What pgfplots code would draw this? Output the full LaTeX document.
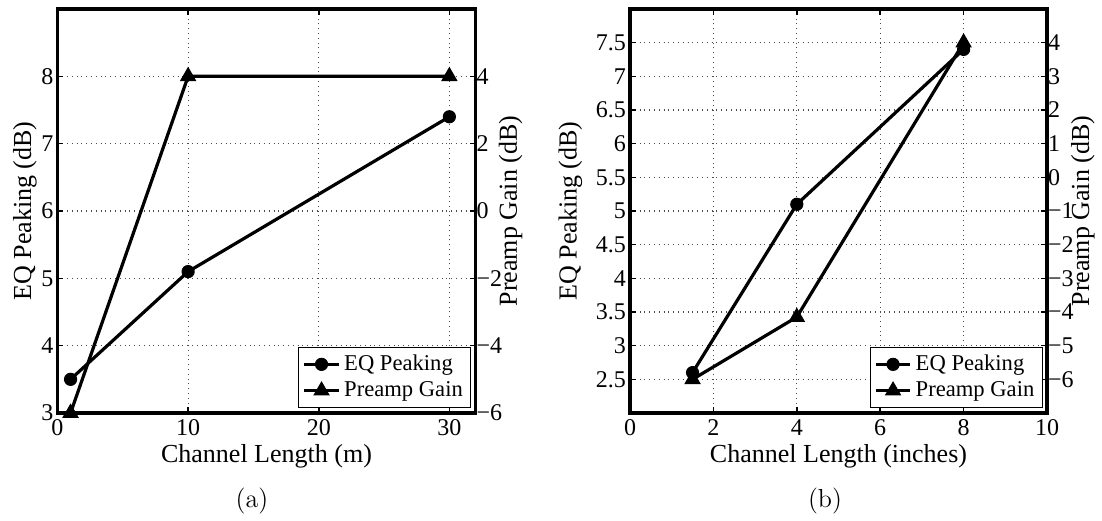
\documentclass[border=0pt]{standalone}
\usepackage{fontspec}
\newfontfamily\libserif{Liberation Serif}
\usepackage{pgfplots}
\pgfplotsset{compat=1.18}

\pgfplotsset{
  twin/.style={
    scale only axis, height=202pt,
    clip=false,
    tick align=inside,
    major tick length=3pt,
    tick style={black, line width=0.8pt},
    axis line style={line width=1.8pt},
    ticklabel style={font=\libserif\fontsize{12}{14}\selectfont},
    label style={font=\libserif\fontsize{13}{15}\selectfont},
  },
  leftax/.style={twin, ytick pos=left, xtick pos=both,
    grid=major, grid style={dotted, line width=0.6pt, black!70},
    yticklabel style={xshift=1.5pt},
    xticklabel style={inner sep=0pt, yshift=-3pt},
    xlabel style={at={(axis description cs:0.5,0)}, anchor=base,
      inner sep=0pt, yshift=-24.5pt}},
  rightax/.style={twin, axis x line=none, axis y line*=right, ytick pos=right,
    yticklabel style={xshift=-3pt},
    legend style={at={(axis description cs:0.99,0.012)}, anchor=south east,
      draw=black, line width=0.5pt, inner sep=2pt, row sep=0pt,
      legend cell align=left,
      font=\libserif\fontsize{11.3}{14}\selectfont}},
  eq/.style={black, line width=1.6pt, mark=*, mark size=3pt,
    mark options={solid, line width=0.6pt}},
  pg/.style={black, line width=1.6pt, mark=triangle*, mark size=4.2pt,
    mark options={solid, line width=0.6pt}},
}

\begin{document}
\begin{tikzpicture}
% (a)
\begin{axis}[leftax, width=209pt, at={(0pt,0pt)}, anchor=south west,
  xmin=0, xmax=32, ymin=3, ymax=9,
  xtick={0,10,20,30}, xticklabels={0,10,20,30},
  ytick={3,4,5,6,7,8}, yticklabels={3,4,5,6,7,8},
  xlabel={Channel Length (m)}, ylabel={EQ Peaking (dB)},
  ylabel style={at={(axis description cs:-0.078,0.5)}, anchor=center},
]
\addplot[eq] coordinates {(1,3.5) (10,5.1) (30,7.4)};
\end{axis}
\begin{axis}[rightax, width=209pt, at={(0pt,0pt)}, anchor=south west,
  xmin=0, xmax=32, ymin=-6, ymax=6,
  ytick={-6,-4,-2,0,2,4}, yticklabels={−6,−4,−2,0,2,4},
  ylabel={Preamp Gain (dB)},
  ylabel style={at={(axis description cs:1.084,0.5)}, anchor=center},
]
\addlegendimage{eq}
\addlegendentry{EQ Peaking}
\addplot[pg] coordinates {(1,-6) (10,4) (30,4)};
\addlegendentry{Preamp Gain}
\end{axis}

% (b)
\begin{axis}[leftax, width=208.5pt, at={(286.25pt,0pt)}, anchor=south west,
  xmin=0, xmax=10, ymin=2, ymax=8,
  xtick={0,2,4,6,8,10}, xticklabels={0,2,4,6,8,10},
  ytick={2.5,3,3.5,4,4.5,5,5.5,6,6.5,7,7.5},
  yticklabels={2.5,3,3.5,4,4.5,5,5.5,6,6.5,7,7.5},
  xlabel={Channel Length (inches)}, ylabel={EQ Peaking (dB)},
  ylabel style={at={(axis description cs:-0.143,0.5)}, anchor=center},
]
\addplot[eq] coordinates {(1.5,2.6) (4,5.1) (8,7.4)};
\end{axis}
\begin{axis}[rightax, width=208.5pt, at={(286.25pt,0pt)}, anchor=south west,
  xmin=0, xmax=10, ymin=-7, ymax=5,
  ytick={-6,-5,-4,-3,-2,-1,0,1,2,3,4},
  yticklabels={−6,−5,−4,−3,−2,−1,0,1,2,3,4},
  ylabel={Preamp Gain (dB)},
  ylabel style={at={(axis description cs:1.086,0.5)}, anchor=center},
]
\addlegendimage{eq}
\addlegendentry{EQ Peaking}
\addplot[pg] coordinates {(1.5,-6) (4,-4.15) (8,4)};
\addlegendentry{Preamp Gain}
\end{axis}

\node[font=\fontsize{13}{15}\selectfont] at (97.25pt,-44pt) {(a)};
\node[font=\fontsize{13}{15}\selectfont] at (383.75pt,-44pt) {(b)};
\path (-28.75pt,-52pt) rectangle (522.25pt,206.5pt);
\end{tikzpicture}
\end{document}
